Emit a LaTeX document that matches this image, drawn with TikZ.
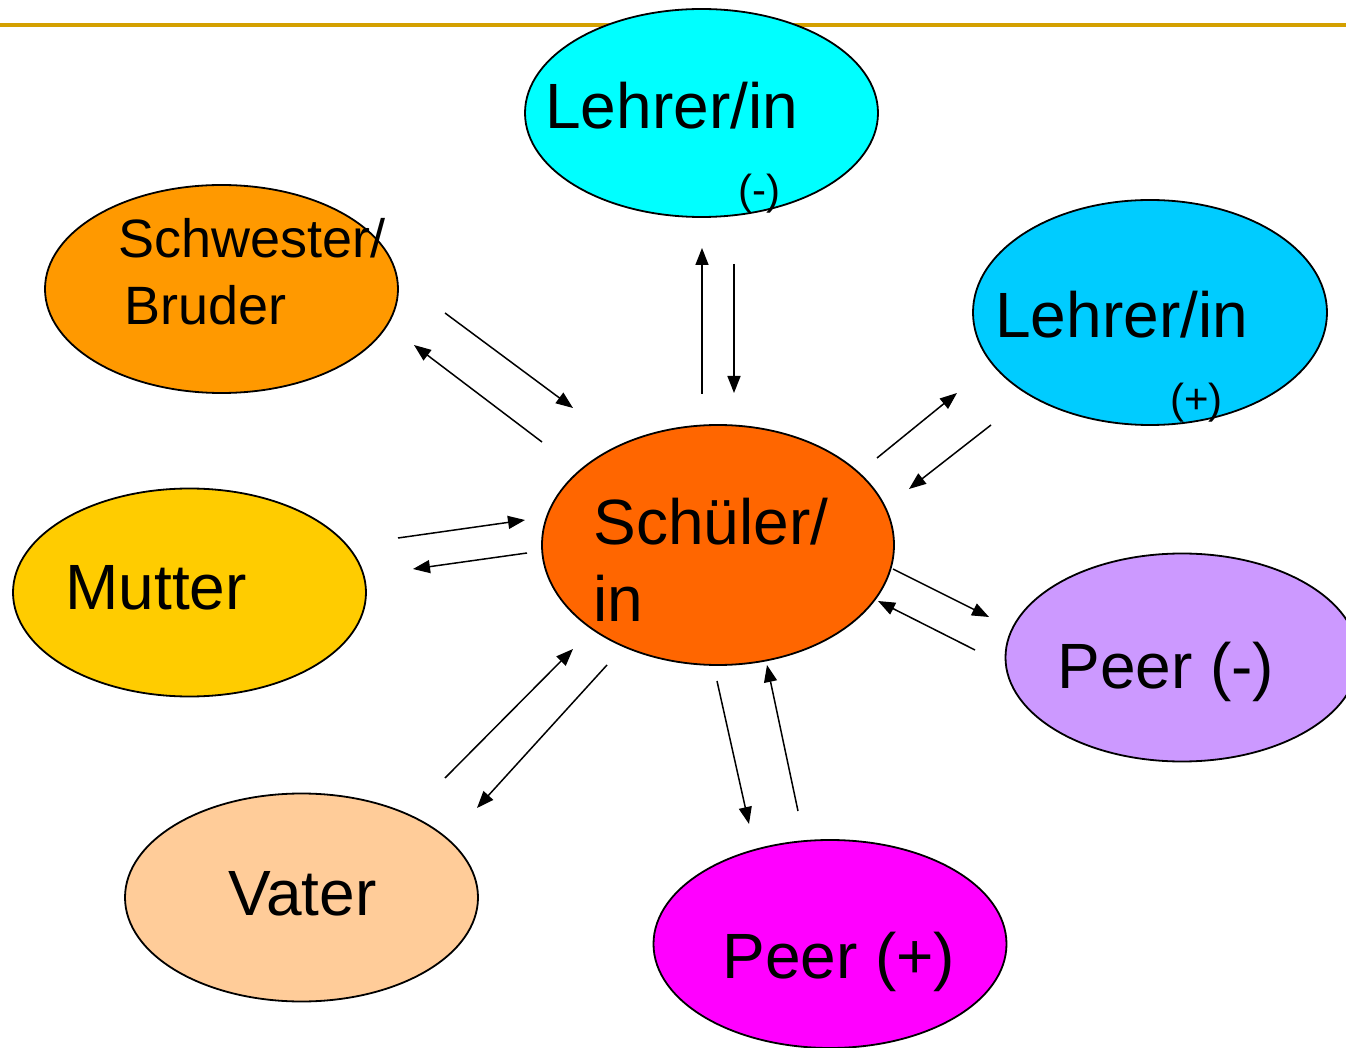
\documentclass[tikz,border=0pt]{standalone}
\usepackage{fontspec}
\setmainfont{Liberation Sans}
\usepackage{tikz}
\usetikzlibrary{shapes.geometric,arrows.meta}
\definecolor{rulegold}{RGB}{212,160,0}
\definecolor{lehrerneg}{RGB}{0,255,255}
\definecolor{lehrerpos}{RGB}{0,204,255}
\definecolor{geschw}{RGB}{255,153,0}
\definecolor{mutter}{RGB}{255,204,0}
\definecolor{schueler}{RGB}{255,102,0}
\definecolor{peerneg}{RGB}{204,153,255}
\definecolor{vater}{RGB}{255,204,153}
\definecolor{peerpos}{RGB}{255,0,255}

\begin{document}
\begin{tikzpicture}[
  x=0.5pt, y=-0.5pt,
  blob/.style={ellipse, draw=black, line width=0.9pt, minimum width=176.5pt, minimum height=104pt, inner sep=0pt},
  lbl/.style={anchor=base west, inner sep=0pt, font=\fontsize{32}{38}\selectfont},
  midlbl/.style={anchor=base west, inner sep=0pt, font=\fontsize{27}{33}\selectfont},
  smalllbl/.style={anchor=base west, inner sep=0pt, font=\fontsize{21}{25}\selectfont},
  arrow/.style={-{Triangle[length=8.5pt,width=6.5pt]}, line width=0.75pt}
]
  \useasboundingbox (0,0) rectangle (1346,1048);
  \clip (0,0) rectangle (1346,1048);

  % header rule
  \draw[rulegold, line width=2pt] (0,25) -- (1346,25);

  % the people round the pupil
  \node[blob, fill=lehrerneg] (lneg) at (701.5,113) {};
  \node[blob, fill=lehrerpos, minimum width=177pt, minimum height=112.5pt] (lpos) at (1150,312.5) {};
  \node[blob, fill=geschw] (geschw) at (221.5,289) {};
  \node[blob, fill=mutter] (mutter) at (189.5,592.5) {};
  \node[blob, fill=schueler, minimum width=176pt, minimum height=120pt] (schueler) at (718,545) {};
  \node[blob, fill=peerneg] (pneg) at (1182,657.5) {};
  \node[blob, fill=vater] (vater) at (301.5,897.5) {};
  \node[blob, fill=peerpos] (ppos) at (830,944) {};

  \node[lbl] (lnegtxt) at (545,129) {Lehrer/in};
  \node[smalllbl] (lnegsign) at (738,205) {(-)};
  \node[lbl] (lpostxt) at (995,338) {Lehrer/in};
  \node[smalllbl] (lpossign) at (1170,414) {(+)};
  \node[midlbl] (geschwtxt) at (118,258) {Schwester/};
  \node[midlbl] (geschwtxtb) at (124,325) {Bruder};
  \node[lbl] (mutertxt) at (65,610) {Mutter};
  \node[lbl] (schuelertxt) at (593,545) {Schüler/};
  \node[lbl] (schuelertxtb) at (593,622) {in};
  \node[lbl] (pnegtxt) at (1057,689) {Peer (-)};
  \node[lbl] (vatertxt) at (228,915) {Vater};
  \node[lbl] (ppostxt) at (722,978) {Peer (+)};

  % arrow ends, pupil side (S) and other side (O)
  \coordinate (lnegS1) at (702,394);  \coordinate (lnegO1) at (702,248);
  \coordinate (lnegO2) at (734,264);  \coordinate (lnegS2) at (734,393);
  \coordinate (geschwS1) at (542,442); \coordinate (geschwO1) at (414,345);
  \coordinate (geschwO2) at (445,313); \coordinate (geschwS2) at (573,408);
  \coordinate (lposS1) at (877,458);  \coordinate (lposO1) at (957,393);
  \coordinate (lposO2) at (991,425);  \coordinate (lposS2) at (909,489);
  \coordinate (mutterS1) at (527,553); \coordinate (mutterO1) at (413,569);
  \coordinate (mutterO2) at (398,538); \coordinate (mutterS2) at (525,520);
  \coordinate (pnegS1) at (893,569);  \coordinate (pnegO1) at (989,617);
  \coordinate (pnegO2) at (975,650);  \coordinate (pnegS2) at (878,601);
  \coordinate (vaterS1) at (607,665); \coordinate (vaterO1) at (477,808);
  \coordinate (vaterO2) at (445,778); \coordinate (vaterS2) at (573,649);
  \coordinate (pposS1) at (717,681);  \coordinate (pposO1) at (749,824);
  \coordinate (pposO2) at (798,811);  \coordinate (pposS2) at (767,665);

  \draw[arrow] (lnegS1) -- (lnegO1);
  \draw[arrow] (lnegO2) -- (lnegS2);
  \draw[arrow] (geschwS1) -- (geschwO1);
  \draw[arrow] (geschwO2) -- (geschwS2);
  \draw[arrow] (lposS1) -- (lposO1);
  \draw[arrow] (lposO2) -- (lposS2);
  \draw[arrow] (mutterS1) -- (mutterO1);
  \draw[arrow] (mutterO2) -- (mutterS2);
  \draw[arrow] (pnegS1) -- (pnegO1);
  \draw[arrow] (pnegO2) -- (pnegS2);
  \draw[arrow] (vaterS1) -- (vaterO1);
  \draw[arrow] (vaterO2) -- (vaterS2);
  \draw[arrow] (pposS1) -- (pposO1);
  \draw[arrow] (pposO2) -- (pposS2);
\end{tikzpicture}
\end{document}
